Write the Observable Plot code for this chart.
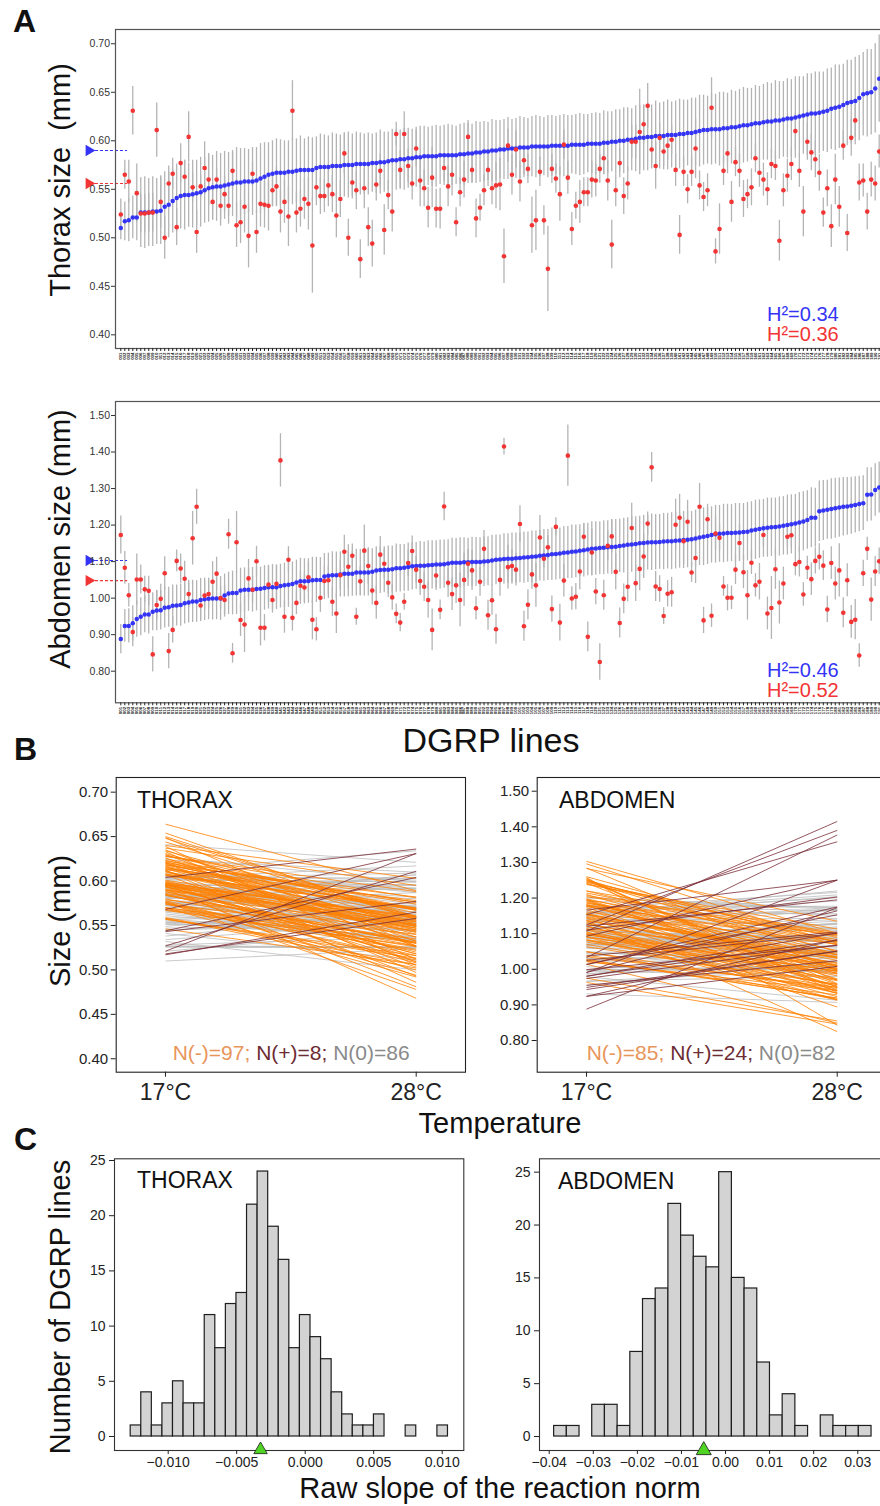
<!DOCTYPE html>
<html><head><meta charset="utf-8">
<script src="https://cdn.jsdelivr.net/npm/d3@7"></script>
<script src="https://cdn.jsdelivr.net/npm/@observablehq/plot@0.6"></script>
<style>
html,body{margin:0;padding:0;background:#fff;}
body{width:880px;height:1506px;position:relative;overflow:hidden;font-family:"Liberation Sans",Arial,Helvetica,sans-serif;}
.t{position:absolute;white-space:nowrap;line-height:1;}
.pl{position:absolute;}
.pl svg{max-width:none !important;display:block;}
</style></head><body>
<script>
// ---------------- DATA ----------------
// Panel A thorax: line means at 17°C (blue, sorted) and 28°C (red), with error half-widths
const thorax17 = [0.510,0.517,0.518,0.521,0.521,0.526,0.526,0.526,0.527,0.527,0.528,0.532,0.534,0.538,0.541,0.543,0.544,0.544,0.545,0.546,0.547,0.549,0.551,0.552,
0.553,0.553,0.554,0.555,0.556,0.557,0.557,0.558,0.558,0.558,0.559,0.561,0.563,0.565,0.566,0.567,0.567,0.567,0.568,0.568,0.569,0.570,0.570,0.570,0.570,0.572,
0.573,0.573,0.573,0.574,0.574,0.574,0.575,0.575,0.575,0.576,0.576,0.576,0.576,0.577,0.577,0.578,0.578,0.579,0.580,0.580,0.581,0.581,0.582,0.582,0.583,0.583,
0.584,0.584,0.584,0.584,0.585,0.585,0.585,0.585,0.585,0.586,0.586,0.587,0.587,0.588,
0.588,0.589,0.589,0.590,0.590,0.591,0.591,0.592,0.592,0.592,0.593,0.593,0.593,0.594,0.594,0.594,0.594,0.594,0.595,0.595,0.595,0.595,0.595,0.596,0.596,0.596,
0.596,0.597,0.597,0.597,0.597,0.598,0.598,0.599,0.599,0.600,0.600,0.601,0.601,0.602,0.603,0.603,0.604,0.604,0.605,0.605,0.605,0.606,0.606,0.606,0.607,0.607,
0.608,0.608,0.609,0.610,0.611,0.611,0.612,0.612,0.612,0.613,0.613,0.614,0.614,0.615,0.616,0.616,0.617,0.618,0.618,0.619,0.620,0.620,0.621,0.621,0.622,0.623,
0.623,0.624,0.625,0.626,0.627,0.628,0.628,0.629,0.630,0.631,0.633,0.634,0.635,0.637,0.639,0.640,0.641,0.644,0.648,0.649,0.650,0.654,0.664];
const thorax28 = [0.524,0.565,0.558,0.631,0.546,0.525,0.525,0.526,0.526,0.611,
0.537,0.500,0.556,0.566,0.511,0.577,0.563,0.604,0.552,0.506,
0.553,0.572,0.560,0.537,0.560,0.533,0.545,0.533,0.569,0.513,
0.516,0.532,0.502,0.566,0.506,0.535,0.534,0.533,0.549,0.553,
0.527,0.537,0.522,0.631,0.526,0.530,0.540,0.535,0.492,0.552,
0.543,0.543,0.554,0.545,0.523,0.540,0.587,0.500,0.557,0.549,
0.478,0.551,0.511,0.494,0.555,0.569,0.508,0.544,0.527,0.607,
0.570,0.607,0.574,0.556,0.592,0.559,0.551,0.531,0.562,0.530,
0.530,0.572,0.553,0.565,0.516,0.547,0.560,0.604,0.570,0.520,
0.531,0.549,0.570,0.551,0.554,0.555,0.481,0.595,0.565,0.591,
0.558,0.580,0.571,0.513,0.518,0.568,0.518,0.468,0.571,0.561,
0.545,0.596,0.562,0.509,0.533,0.537,0.547,0.547,0.560,0.559,
0.571,0.582,0.559,0.493,0.549,0.577,0.543,0.556,0.599,0.599,
0.609,0.617,0.636,0.591,0.574,0.603,0.589,0.595,0.601,0.570,
0.503,0.568,0.550,0.568,0.592,0.554,0.542,0.549,0.634,0.486,
0.509,0.569,0.587,0.537,0.578,0.569,0.540,0.545,0.552,0.582,
0.567,0.560,0.550,0.576,0.574,0.497,0.549,0.564,0.576,0.610,
0.569,0.527,0.599,0.588,0.581,0.567,0.526,0.551,0.512,0.560,
0.532,0.595,0.505,0.603,0.621,0.557,0.559,0.527,0.560,0.556,0.589];
const thorax17Err = [.012,.020,.022,.022,.024,.036,.037,.035,.036,.034,.035,
.036,.034,.033,.035,.034,.036,.033,.035,.034,.036,
.034,.035,.033,.036,.034,.035,.033,.034,.036,.035,.034,.033,.035,.034,.036,.035,.033,.034,.035,.034,
.033,.032,.034,.033,.035,.032,.034,.033,.032,.034,.033,.032,.034,.033,.032,.033,.034,.032,.033,.032,
.031,.032,.030,.031,.033,.031,.030,.032,.031,.030,.032,.031,.030,.031,.032,.031,.030,.031,.032,.030,.031,.032,.031,.030,.031,.032,.031,.030,.032,.031,
.031,.030,.032,.031,.030,.031,.032,.030,.031,.032,.031,.030,.031,.032,.031,.030,.032,.031,.030,.031,.032,.031,.030,.031,.032,.031,.030,.031,.032,.031,.033,.032,.031,.033,.032,.034,.033,.032,.034,.033,
.034,.035,.033,.036,.034,.035,.036,.034,.035,.036,.035,.034,.036,.035,.037,.036,.035,.037,.036,.038,.037,.036,.038,.037,.038,.039,.038,.037,.039,.038,
.039,.040,.039,.041,.040,.039,.041,.040,.042,.041,.040,.042,.041,.043,.042,.041,.043,.042,.044,.043,.042,.044,.043,.045,.044,.043,.045,.044,.046,.045];
const thorax28Err = [.016,.015,.022,.025,.030,.020,.020,.020,.020,.028,
.027,.022,.018,.016,.019,.020,.017,.026,.015,.022,
.012,.027,.027,.019,.012,.021,.018,.019,.019,.023,
.022,.027,.033,.012,.022,.024,.024,.026,.017,.020,
.022,.022,.031,.031,.021,.019,.021,.027,.049,.019,
.019,.017,.022,.019,.023,.019,.021,.019,.017,.020,
.020,.021,.020,.024,.017,.017,.026,.015,.021,.012,
.020,.023,.017,.017,.019,.027,.019,.021,.031,.020,
.021,.014,.021,.022,.015,.015,.019,.017,.014,.020,
.014,.016,.017,.017,.024,.027,.028,.017,.021,.019,
.021,.015,.015,.029,.031,.015,.015,.044,.015,.015,
.028,.015,.017,.017,.014,.022,.015,.015,.019,.017,
.015,.017,.021,.025,.017,.015,.019,.017,.017,.017,
.044,.020,.023,.014,.024,.015,.015,.015,.015,.017,
.020,.015,.015,.015,.031,.015,.015,.017,.031,.013,
.026,.015,.021,.021,.015,.017,.019,.015,.019,.015,
.015,.017,.017,.015,.015,.021,.017,.017,.017,.019,
.017,.026,.019,.019,.019,.019,.015,.019,.022,.026,
.021,.015,.019,.019,.017,.019,.017,.019,.018,.018,.017];
// Panel A abdomen
const abdomen17 = [0.888,0.924,0.924,0.931,0.943,0.949,0.955,0.955,0.963,0.966,
0.967,0.974,0.975,0.979,0.980,0.981,0.986,0.988,0.991,0.991,
0.995,0.997,0.998,0.999,0.999,0.999,1.007,1.013,1.014,1.014,
1.021,1.023,1.023,1.023,1.025,1.026,1.028,1.030,1.030,1.030,
1.033,1.035,1.037,1.039,1.043,1.046,1.046,1.047,1.049,1.050,
1.050,1.059,1.061,1.063,1.063,1.065,1.067,1.067,1.067,1.070,
1.070,1.070,1.070,1.072,1.076,1.077,1.078,1.078,1.079,1.082,
1.082,1.083,1.085,1.087,1.088,1.089,1.089,1.090,1.091,1.092,
1.092,1.093,1.095,1.097,1.097,1.097,1.098,1.098,1.099,1.099,
1.099,1.100,1.101,1.103,1.105,1.106,1.107,1.108,1.108,1.109,
1.110,1.111,1.112,1.113,1.114,1.116,1.117,1.118,1.120,1.121,
1.122,1.124,1.125,1.127,1.128,1.130,1.131,1.133,1.135,1.136,
1.137,1.138,1.139,1.140,1.141,1.143,1.144,1.146,1.147,1.148,
1.150,1.151,1.152,1.153,1.153,1.154,1.155,1.156,1.156,1.157,
1.158,1.159,1.160,1.161,1.163,1.166,1.168,1.170,1.173,1.175,
1.176,1.177,1.178,1.178,1.179,1.180,1.181,1.182,1.185,1.187,
1.189,1.191,1.193,1.194,1.195,1.196,1.198,1.200,1.202,1.204,
1.207,1.210,1.214,1.220,1.220,1.238,1.240,1.242,1.244,1.246,
1.248,1.250,1.251,1.253,1.255,1.258,1.260,1.283,1.284,1.296,1.303];
const abdomen28 = [1.173,1.083,1.008,0.907,1.051,1.051,1.024,1.020,0.846,0.981,
0.998,1.068,0.855,0.913,1.102,1.081,1.053,1.011,1.164,1.250,
0.980,1.007,1.011,1.045,1.067,1.000,0.995,1.175,0.849,1.153,
0.940,0.928,1.054,1.023,1.101,0.919,0.919,1.037,0.995,1.039,
1.377,0.949,1.105,0.946,0.987,1.034,1.029,1.057,0.941,0.915,
1.001,1.047,1.049,0.990,0.958,1.063,1.127,1.086,1.116,0.949,
1.046,1.130,1.088,1.021,0.987,1.119,1.094,1.042,1.002,0.957,
0.933,0.990,1.096,1.129,1.078,1.047,1.031,0.995,0.913,1.062,
0.968,1.251,1.042,1.011,1.035,0.995,1.050,1.094,1.076,0.972,
1.045,
1.135,0.953,0.994,0.915,1.050,1.415,1.085,1.088,1.078,1.203,
0.923,0.982,1.065,1.035,1.166,1.108,1.139,0.970,1.195,0.933,
1.048,1.390,0.999,1.004,1.073,1.168,0.894,1.125,1.018,0.825,
1.008,1.143,1.169,1.072,0.932,0.998,1.031,1.192,1.041,1.080,
1.114,1.204,1.358,1.032,1.025,0.951,1.012,1.016,1.201,1.220,
1.156,1.209,1.070,1.110,1.250,0.939,1.216,0.952,1.177,1.165,
1.032,1.001,1.001,1.078,1.151,1.071,1.008,1.097,1.035,1.045,
1.173,0.958,0.973,1.079,0.988,1.040,1.168,1.172,1.093,1.099,
1.010,1.083,1.052,1.102,1.113,1.089,0.969,1.096,1.040,1.076,
0.960,1.049,0.935,0.941,0.843,1.068,1.135,0.996,1.073,1.101];
const abdomen17Err = [.040,.045,.047,.048,.050,.052,.050,.053,.052,.055,.054,
.056,.055,.057,.056,.058,.057,.056,.058,.057,.059,.058,.057,.059,.058,.060,.059,.058,.060,.059,.061,.060,.059,.061,.060,.059,.061,.060,.062,.061,.060,
.061,.062,.060,.061,.063,.062,.061,.063,.062,.061,.063,.062,.064,.063,.062,.064,.063,.062,.064,.063,.065,.064,.063,.065,.064,.063,.065,.064,.066,.065,.064,.066,.065,.064,.066,.065,.067,.066,.065,.067,.066,.065,.067,.066,.068,.067,.066,.068,.067,.066,
.068,.067,.069,.068,.067,.069,.068,.070,.069,.068,.070,.069,.071,.070,.069,.071,.070,.072,.071,.070,.072,.071,.073,.072,.071,.073,.072,.074,.073,.072,.074,.073,.075,.074,.073,.075,.074,.076,.075,.074,.076,.075,.077,.076,.075,.077,.076,.078,.077,.076,
.078,.077,.076,.078,.077,.079,.078,.077,.079,.078,.080,.079,.078,.080,.079,.078,.080,.079,.081,.080,.079,.081,.080,.079,.081,.080,.082,.081,.080,.082,.081,.080,.082,.081,.083,.082,.081,.083,.082,.081,.080,.079,.078,.077,.076,.075,.074,.073,.072,.070];
const abdomen28Err = [.052,.045,.032,.040,.070,.040,.036,.040,.048,.040,
.040,.045,.048,.036,.030,.040,.048,.038,.073,.048,
.040,.040,.040,.055,.045,.032,.040,.041,.027,.084,
.045,.077,.052,.036,.041,.050,.036,.050,.036,.050,
.073,.045,.036,.036,.032,.040,.040,.040,.055,.032,
.040,.040,.040,.040,.055,.040,.045,.060,.032,.023,
.040,.070,.050,.040,.045,.050,.040,.040,.035,.027,
.025,.023,.036,.041,.036,.040,.040,.050,.057,.041,
.027,.039,.040,.045,.050,.073,.073,.040,.055,.032,
.040,.050,.041,.041,.041,.045,.023,.060,.045,.045,
.050,.041,.041,.041,.060,.060,.025,.032,.036,.025,
.050,.045,.084,.032,.036,.050,.036,.041,.064,.036,
.050,.041,.041,.045,.050,.041,.041,.041,.068,.050,
.060,.060,.032,.041,.041,.036,.023,.036,.041,.070,
.064,.064,.059,.027,.070,.064,.036,.041,.032,.045,
.036,.027,.036,.032,.041,.050,.045,.068,.032,.032,
.050,.032,.045,.086,.055,.059,.045,.027,.032,.032,
.041,.032,.032,.045,.036,.036,.041,.036,.045,.045,
.073,.041,.045,.045,.055,.032,.036,.032,.059,.041,.036];
// overall means marked on the left of panel A
const thoraxMean17 = 0.590, thoraxMean28 = 0.556;
const abdomenMean17 = 1.103, abdomenMean28 = 1.048;
const thoraxH2 = ["H²=0.34", "H²=0.36"];
const abdomenH2 = ["H²=0.46", "H²=0.52"];
// Panel B: temperatures and counts of negative / positive / flat reaction norms
const temps = [17, 28];
const thoraxCounts = {neg: 97, pos: 8, zero: 86};
const abdomenCounts = {neg: 85, pos: 24, zero: 82};
// Panel C: histograms of slopes (bin width, centre of first bin, counts)
const thoraxBinWidth = 0.000772, thoraxFirstCenter = -16 * 0.000772;
const thoraxHist = [1,4,1,3,5,3,3,11,8,12,13,21,24,19,16,8,11,9,7,4,2,1,1,2,0,0,1,0,0,1];
const abdomenBinWidth = 0.00288, abdomenFirstCenter = -13 * 0.00288;
const abdomenHist = [1,1,0,3,3,1,8,13,14,22,19,17,16,25,15,14,7,2,4,1,0,2,1,1,1];
const thoraxMeanSlope = -0.00326, abdomenMeanSlope = -0.00494;
const thoraxSlopeTicks = [-0.010,-0.005,0,0.005,0.010];
const abdomenSlopeTicks = [-0.04,-0.03,-0.02,-0.01,0,0.01,0.02,0.03];
const countTicks = [0,5,10,15,20,25];
const thoraxSizeTicks = [0.40,0.45,0.50,0.55,0.60,0.65,0.70];
const abdomenSizeTicks = [0.80,0.90,1.00,1.10,1.20,1.30,1.40,1.50];

// ---------------- STYLE ----------------
const FONT = '"Liberation Sans", Arial, Helvetica, sans-serif';
const BLUE = "#3434f6", RED = "#f23434", ERR = "#b4b4b4";
const ORANGE = "#ff8000", BROWN = "#7a2c36", GREY = "#bdbdbd";
const NEG_TXT = "#e8955a", POS_TXT = "#6d2c33", ZERO_TXT = "#8a8a8a";

function put(node, left, top) {
  const d = document.createElement("div");
  d.className = "pl"; d.style.left = left + "px"; d.style.top = top + "px";
  node.style.maxWidth = "none";
  d.appendChild(node); document.body.appendChild(d);
}
function label(html, x, baseline, size, opts = {}) {
  const d = document.createElement("div");
  d.className = "t";
  d.innerHTML = html;
  d.style.fontSize = size + "px";
  d.style.color = opts.color || "#111";
  if (opts.bold) d.style.fontWeight = "bold";
  d.style.top = (baseline - 0.8465 * size) + "px";
  d.style.left = x + "px";
  if (opts.center) d.style.transform = "translateX(-50%)";
  document.body.appendChild(d);
}
function vlabel(str, cx, cy, size) {
  const d = document.createElement("div");
  d.className = "t"; d.textContent = str;
  d.style.fontSize = size + "px"; d.style.color = "#111";
  d.style.left = cx + "px"; d.style.top = cy + "px";
  d.style.transform = "translate(-50%,-50%) rotate(-90deg)";
  document.body.appendChild(d);
}

// ---------------- PANEL A ----------------
function panelA(v17, v28, e17, e28, m17, m28, yDomain, yTicks, top, frameTop, frameBottom, height) {
  const idx = d3.range(v17.length);
  const p = Plot.plot({
    width: 900, height,
    marginLeft: 115, marginRight: 18, marginTop: frameTop - top, marginBottom: height - (frameBottom - top),
    style: {fontFamily: FONT, fontSize: "10.5px", color: "#333", background: "transparent", overflow: "visible"},
    x: {type: "linear", domain: [-1.33, 190.83]},
    y: {domain: yDomain},
    marks: [
      Plot.ruleX(idx, {x: i => i, y1: i => v17[i] - e17[i], y2: i => v17[i] + e17[i], stroke: ERR, strokeWidth: 1.3}),
      Plot.ruleX(idx, {x: i => i, y1: i => v28[i] - e28[i], y2: i => v28[i] + e28[i], stroke: ERR, strokeWidth: 1.3}),
      Plot.dot(idx, {x: i => i, y: i => v17[i], r: 2.25, fill: BLUE}),
      Plot.dot(idx, {x: i => i, y: i => v28[i], r: 2.3, fill: RED}),
      Plot.ruleY([m17], {y: d => d, x1: -7.6, x2: 1.7, stroke: BLUE, strokeDasharray: "3,2", strokeWidth: 1.1}),
      Plot.ruleY([m28], {y: d => d, x1: -7.6, x2: 1.7, stroke: RED, strokeDasharray: "3,2", strokeWidth: 1.1}),
      Plot.dot([m17], {x: -8.0, y: d => d, symbol: "triangle", rotate: 90, r: 4.2, fill: BLUE}),
      Plot.dot([m28], {x: -8.0, y: d => d, symbol: "triangle", rotate: 90, r: 4.2, fill: RED}),
      Plot.frame({stroke: "#555", strokeWidth: 1.2}),
      Plot.axisY({ticks: yTicks, tickFormat: d3.format(".2f"), tickSize: 4, tickPadding: 1.5, label: null, fontSize: 10.5, stroke: "#333"}),
      Plot.axisX({ticks: idx, tickSize: 3, tickPadding: 1, tickRotate: -90, fontSize: 4.4, fill: "#111", fontWeight: "bold", tickFormat: i => String(i + 1).padStart(3, "0"), label: null, stroke: "#222"})
    ]
  });
  put(p, 0, top);
}
panelA(thorax17, thorax28, thorax17Err, thorax28Err, thoraxMean17, thoraxMean28,
  [0.3859, 0.7147], thoraxSizeTicks, 0, 29, 348, 368);
panelA(abdomen17, abdomen28, abdomen17Err, abdomen28Err, abdomenMean17, abdomenMean28,
  [0.7135, 1.5383], abdomenSizeTicks, 380, 401, 702.3, 725);

// ---------------- PANEL B ----------------
function classify(v17, v28, counts) {
  const slope = v17.map((d, i) => (v28[i] - d) / (temps[1] - temps[0]));
  const order = d3.range(v17.length).sort((a, b) => slope[a] - slope[b]);
  const cls = new Array(v17.length).fill("zero");
  order.slice(0, counts.neg).forEach(i => cls[i] = "neg");
  order.slice(order.length - counts.pos).forEach(i => cls[i] = "pos");
  return cls;
}
function panelB(v17, v28, counts, yDomain, yTicks, left, width, frameLeft, frameRight, xDomain) {
  const cls = classify(v17, v28, counts);
  const idx = d3.range(v17.length);
  const link = (c, col) => Plot.link(idx.filter(i => cls[i] === c),
    {x1: temps[0], x2: temps[1], y1: i => v17[i], y2: i => v28[i], stroke: col, strokeWidth: 0.8});
  const p = Plot.plot({
    width, height: 350,
    marginLeft: frameLeft - left, marginRight: width - (frameRight - left), marginTop: 17, marginBottom: 38.3,
    style: {fontFamily: FONT, fontSize: "15px", color: "#222", background: "transparent", overflow: "visible"},
    x: {type: "linear", domain: xDomain},
    y: {domain: yDomain},
    marks: [
      link("zero", GREY), link("neg", ORANGE), link("pos", BROWN),
      Plot.frame({stroke: "#222", strokeWidth: 1.1}),
      Plot.axisY({ticks: yTicks, tickFormat: d3.format(".2f"), tickSize: 5, tickPadding: 3, label: null, fontSize: 15}),
      Plot.axisX({ticks: temps, tickFormat: d => d + "°C", tickSize: 5, tickPadding: 6, label: null, fontSize: 23})
    ]
  });
  put(p, left, 760);
}
panelB(thorax17, thorax28, thoraxCounts, [0.3849, 0.7165], thoraxSizeTicks, 0, 480, 115.7, 465, [14.837, 30.163]);
panelB(abdomen17, abdomen28, abdomenCounts, [0.711, 1.5385], abdomenSizeTicks, 470, 420, 536.7, 884, [14.837, 30.075]);

// ---------------- PANEL C ----------------
function panelC(counts, bw, c0, meanSlope, xDomain, yDomain, xTicks, fmt, left, width, frameLeft, frameRight, triY, triR) {
  const bins = counts.map((n, i) => ({x1: c0 + (i - 0.5) * bw, x2: c0 + (i + 0.5) * bw, n}));
  const p = Plot.plot({
    width, height: 340,
    marginLeft: frameLeft - left, marginRight: width - (frameRight - left), marginTop: 18.3, marginBottom: 30,
    style: {fontFamily: FONT, fontSize: "14px", color: "#222", background: "transparent", overflow: "visible"},
    x: {type: "linear", domain: xDomain},
    y: {domain: yDomain},
    marks: [
      Plot.rectY(bins, {x1: "x1", x2: "x2", y1: 0, y2: "n", fill: "#d3d3d3", stroke: "#1e1e1e", strokeWidth: 1.2, inset: 0}),
      Plot.frame({stroke: "#333", strokeWidth: 1.1}),
      Plot.dot([meanSlope], {x: d => d, y: triY, symbol: "triangle", r: triR, fill: "#4fd424", stroke: "#1a1a1a", strokeWidth: 0.8}),
      Plot.axisY({ticks: countTicks, tickSize: 5, tickPadding: 4, label: null, fontSize: 14}),
      Plot.axisX({ticks: xTicks, tickFormat: d3.format(fmt), tickSize: 4, tickPadding: 3, label: null, fontSize: 14})
    ]
  });
  put(p, left, 1140);
}
panelC(thoraxHist, thoraxBinWidth, thoraxFirstCenter, thoraxMeanSlope, [-0.01392, 0.011577], [-1.268, 25.154],
  thoraxSlopeTicks, ".3f", 0, 480, 114, 463.3, -1.2, 5);
panelC(abdomenHist, abdomenBinWidth, abdomenFirstCenter, abdomenMeanSlope, [-0.0422, 0.03606], [-1.321, 26.264],
  abdomenSlopeTicks, ".2f", 470, 420, 539, 884, -1.3, 5.6);

// ---------------- TEXT ----------------
label("A", 13, 32, 32, {bold: true});
label("B", 14, 760, 32, {bold: true});
label("C", 14, 1150, 32, {bold: true});
vlabel("Thorax size\u00a0\u00a0(mm)", 60, 180, 29);
vlabel("Abdomen size (mm)", 60, 539, 29);
vlabel("Size (mm)", 60, 921, 29);
vlabel("Number of DGRP lines", 60, 1307, 29);
label("DGRP lines", 491, 752, 34, {center: true});
label("Temperature", 500, 1134, 29, {center: true});
label("Raw slope of the reaction norm", 500, 1499, 29, {center: true});
label(thoraxH2[0], 767, 320.5, 20, {color: BLUE});
label(thoraxH2[1], 767, 340.5, 20, {color: RED});
label(abdomenH2[0], 767, 676.5, 20, {color: BLUE});
label(abdomenH2[1], 767, 696.5, 20, {color: RED});
label("THORAX", 137, 808, 23);
label("ABDOMEN", 559, 808, 23);
label(`<span style="color:${NEG_TXT}">N(-)=${thoraxCounts.neg};</span> <span style="color:${POS_TXT}">N(+)=${thoraxCounts.pos};</span> <span style="color:${ZERO_TXT}">N(0)=${thoraxCounts.zero}</span>`, 172.7, 1060, 21);
label(`<span style="color:${NEG_TXT}">N(-)=${abdomenCounts.neg};</span> <span style="color:${POS_TXT}">N(+)=${abdomenCounts.pos};</span> <span style="color:${ZERO_TXT}">N(0)=${abdomenCounts.zero}</span>`, 586.7, 1060, 21);
label("THORAX", 137, 1188, 23);
label("ABDOMEN", 558, 1189, 23);
</script>
</body></html>
